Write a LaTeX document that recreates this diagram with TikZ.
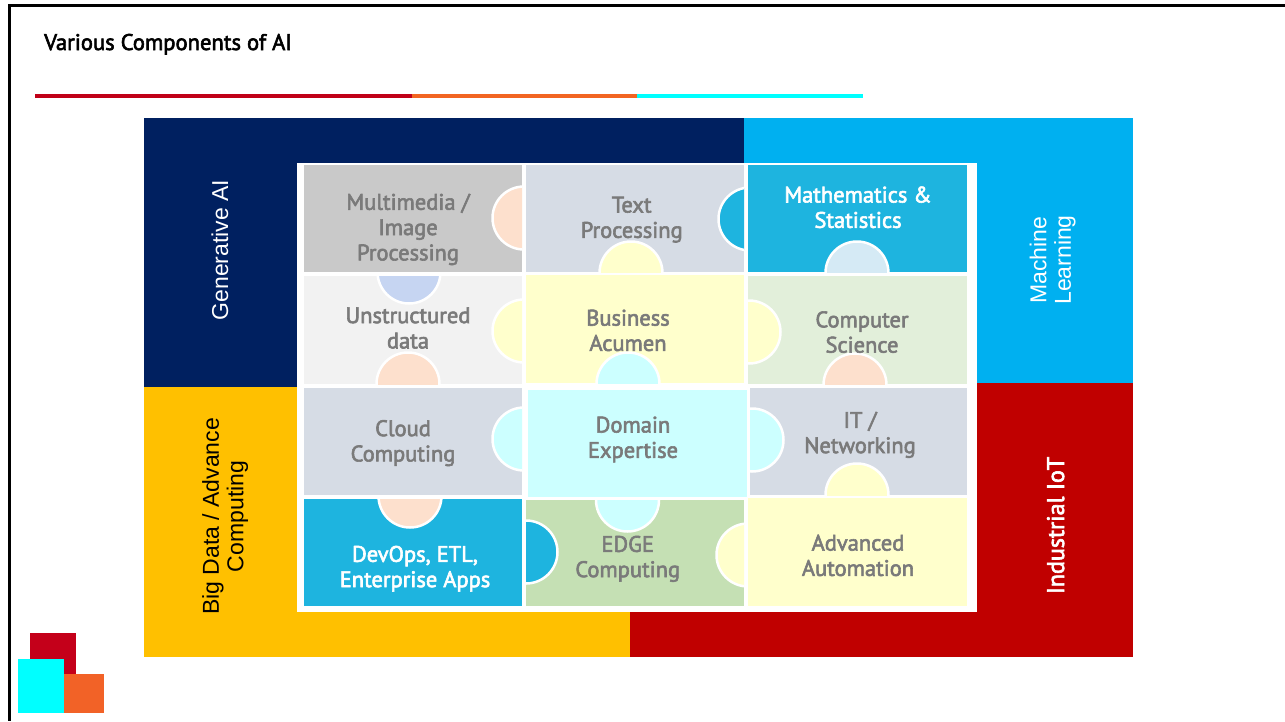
\documentclass[tikz,border=0pt]{standalone}
\usepackage{fontspec}
\setmainfont{PT Sans}
\newfontfamily\dinf[FakeBold=2.6]{PT Sans}
\newfontfamily\arialf{Liberation Sans}
\definecolor{navy}{HTML}{002060}
\definecolor{mlblue}{HTML}{00B0F0}
\definecolor{bdyellow}{HTML}{FFC000}
\definecolor{iotred}{HTML}{C00000}
\definecolor{linered}{HTML}{C00018}
\definecolor{lineorange}{HTML}{F26522}
\definecolor{linecyan}{HTML}{00FFFF}
\definecolor{logored}{HTML}{C4001A}
\definecolor{logoorange}{HTML}{F26227}
\definecolor{txtgray}{HTML}{7A7A7A}
\definecolor{cgrey}{HTML}{C9C9C9}
\definecolor{cslate}{HTML}{D6DCE5}
\definecolor{cblue}{HTML}{1EB4DF}
\definecolor{clight}{HTML}{F2F2F2}
\definecolor{cyellow}{HTML}{FFFFCC}
\definecolor{cgreenl}{HTML}{E2EFDA}
\definecolor{ccyan}{HTML}{CCFFFF}
\definecolor{cgreen}{HTML}{C5E0B4}
\definecolor{kpeach}{HTML}{FDE0CD}
\definecolor{kperi}{HTML}{C6D5F2}
\definecolor{kice}{HTML}{D5EAF5}
\newcommand\knobin[7]{%
  \begin{scope}
    \clip (#1,#2) rectangle (#3,#4);
    \filldraw[knob, fill=#7] (#5,#6) circle (31.5pt);
  \end{scope}}
\begin{document}
\begin{tikzpicture}[x=1pt,y=-1pt,
  celltext/.style={align=center, inner sep=0pt, text=txtgray, font=\dinf\fontsize{22.5}{25.3}\selectfont},
  celltextw/.style={celltext, text=white},
  sidelabel/.style={rotate=90, align=center, inner sep=0pt, font=\arialf\fontsize{23}{23.4}\selectfont},
  knob/.style={draw=white, line width=2.5pt},
  border/.style={line width=3pt, draw=black},
  seg/.style={line width=3.3pt}
]
\useasboundingbox (0,0) rectangle (1285,721);
\fill[white] (0,0) rectangle (1285,721);
% frame
\draw[border] (1285,5) -- (9.5,5) -- (9.5,721);
% title
\node[anchor=base west, inner sep=0pt, font=\dinf\fontsize{22.6}{25}\selectfont] (title) at (44,50) {Various Components of AI};
% segmented rule
\draw[seg, linered] (35,96) -- (412,96);
\draw[seg, lineorange] (412,96) -- (637,96);
\draw[seg, linecyan] (637,96) -- (863,96);
% quadrants
\fill[navy] (144,118) rectangle (744,387);
\fill[mlblue] (744,118) rectangle (1133,383);
\fill[bdyellow] (144,387) rectangle (630,657);
\fill[iotred] (630,383) rectangle (1133,657);
\fill[white] (297,163) rectangle (977,612);
% cells
\fill[cgrey]   (304,165) rectangle (522,272);
\fill[cslate]  (526,165) rectangle (744,272);
\fill[cblue]   (748,165) rectangle (967,272);
\fill[clight]  (304,276) rectangle (522,384);
\fill[cyellow] (526,275) rectangle (744,383);
\fill[cgreenl] (748,276) rectangle (967,384);
\fill[cslate]  (304,388) rectangle (522,495);
\fill[ccyan]   (528,390) rectangle (747,497);
\fill[cslate]  (750,388) rectangle (967,495);
\fill[cblue]   (304,499) rectangle (522,606);
\fill[cgreen]  (526,500) rectangle (744,606);
\fill[cyellow] (748,498) rectangle (967,606);
% knobs
\knobin{304}{165}{522}{272}{524}{218}{kpeach}
\knobin{304}{276}{522}{384}{409}{272}{kperi}
\knobin{304}{276}{522}{384}{524}{331}{cyellow}
\knobin{304}{276}{522}{384}{408}{384}{kpeach}
\knobin{526}{165}{744}{272}{750}{219}{cblue}
\knobin{526}{165}{744}{272}{631}{273}{cyellow}
\knobin{526}{275}{744}{383}{628}{384}{ccyan}
\knobin{748}{165}{967}{272}{857}{273}{kice}
\knobin{748}{276}{967}{384}{749}{332}{cyellow}
\knobin{748}{276}{967}{384}{855}{385}{kpeach}
\knobin{304}{388}{522}{495}{524}{439}{ccyan}
\knobin{304}{499}{522}{606}{410}{496}{kpeach}
\knobin{750}{388}{967}{495}{752}{440}{ccyan}
\knobin{750}{388}{967}{495}{857}{495}{cyellow}
\knobin{526}{500}{744}{606}{627.5}{500}{ccyan}
\knobin{526}{500}{744}{606}{526}{552}{cblue}
\knobin{526}{500}{744}{606}{748}{555}{cyellow}
% cell texts
\node[celltext] (mm) at (408,230) {\strut Multimedia /\\\strut Image\\\strut Processing};
\node[celltext] (tp) at (631.7,220.1) {\strut Text\\\strut Processing};
\node[celltextw] (ms) at (858,210.1) {\strut Mathematics \&\\\strut Statistics};
\node[celltext] (ud) at (408,330.7) {\strut Unstructured\\\strut data};
\node[celltext] (ba) at (628,333.2) {\strut Business\\\strut Acumen};
\node[celltext] (cs) at (862,334.9) {\strut Computer\\\strut Science};
\node[celltext] (cc) at (403,443.7) {\strut Cloud\\\strut Computing};
\node[celltext] (de) at (633,440.1) {\strut Domain\\\strut Expertise};
\node[celltext] (it) at (860,435.4) {\strut IT /\\\strut Networking};
\node[celltextw] (dv) at (415,569.4) {\strut DevOps, ETL,\\\strut Enterprise Apps};
\node[celltext] (ec) at (627.7,559.4) {\strut EDGE\\\strut Computing};
\node[celltext] (aa) at (858,558.2) {\strut Advanced\\\strut Automation};
% side labels
\node[sidelabel, anchor=base, text=white] (gen) at (228,250) {Generative AI};
\node[sidelabel, text=black] (bd) at (226.3,516.5) {\strut Big Data / Advance\\\strut Computing};
\node[sidelabel, text=white] (ml) at (1053.8,260) {\strut Machine\\\strut Learning};
\node[rotate=90, anchor=base, inner sep=0pt, text=white, font=\dinf\fontsize{24}{25}\selectfont] (iot) at (1064,525.5) {Industrial IoT};
% logo
\fill[logored] (30,633) rectangle (76,674);
\fill[linecyan] (18,659) rectangle (64,713);
\fill[logoorange] (64,674) rectangle (104,713);
\end{tikzpicture}
\end{document}
